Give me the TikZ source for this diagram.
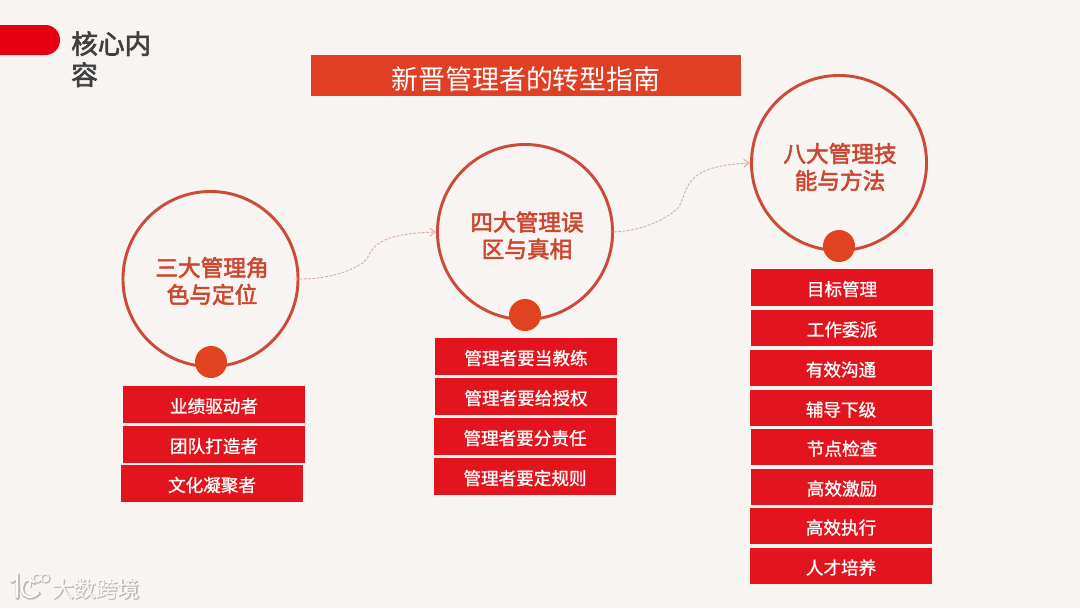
\documentclass[tikz,border=0pt]{standalone}
\usepackage{fontspec}
\setmainfont{Noto Sans CJK SC}
\newfontfamily\medf[FakeBold=2.4]{Noto Sans CJK SC}
\newfontfamily\lightbold[FakeBold=1.0]{Noto Sans CJK SC}
\usetikzlibrary{arrows.meta}
\definecolor{bgc}{HTML}{F8F4F1}
\definecolor{pillc}{HTML}{E60012}
\definecolor{titlec}{HTML}{E03F24}
\definecolor{ringc}{HTML}{CB4A38}
\definecolor{dotc}{HTML}{E0431F}
\definecolor{boxc}{HTML}{E3141E}
\definecolor{headc}{HTML}{CC4630}
\definecolor{flowc}{HTML}{D9ABA5}
\definecolor{inkc}{HTML}{404040}
\definecolor{markc}{HTML}{FBFAF8}
\definecolor{markshade}{HTML}{BDBAB6}
\tikzset{
  x=0.75pt,y=-0.75pt,
  ring/.style={circle,draw=ringc,line width=2.2pt,minimum size=131.3pt,inner sep=0pt,outer sep=0pt},
  ringtext/.style={align=center,text=headc,font=\fontsize{17}{20.2}\medf,inner sep=0pt},
  knob/.style={circle,fill=dotc,minimum size=24pt,inner sep=0pt},
  item/.style={fill=boxc,minimum width=136.5pt,minimum height=27.5pt,inner sep=0pt},
  itemtext/.style={text=white,inner sep=0pt,font=\fontsize{13.2}{14}\lightbold},
  flow/.style={draw=flowc,line width=0.7pt,dashed,dash pattern=on 2pt off 1.2pt,shorten >=1.2pt,shorten <=-2pt,-{Straight Barb[length=4pt,width=6pt]}},
}
\newcommand{\itembox}[4]{\node[item] (#1) at (#2,#3) {}; \node[itemtext] (#1t) at (#2,#3+1.6) {#4};}
\begin{document}
\begin{tikzpicture}
\useasboundingbox (0,0) rectangle (1080,608);
\fill[bgc] (0,0) rectangle (1080,608);
% tab
\fill[pillc,rounded corners=11pt] (-30,25) rectangle (60,55);
\node[anchor=north west,inner sep=0pt,text=inkc,align=left,font=\fontsize{20}{23.3}\medf] (corehead) at (71,31) {核心内\\容};
% title
\node[fill=titlec,minimum width=323pt,minimum height=30.5pt,inner sep=0pt] (title) at (526,75.5) {};
\node[text=white,inner sep=0pt,font=\fontsize{20.2}{24}\selectfont] (titletext) at (526,79.5) {新晋管理者的转型指南};
% circles
\node[ring] (r1) at (210.5,279) {};
\node[ring] (r2) at (525,232) {};
\node[ring] (r3) at (839,163) {};
\node[ringtext] (t1) at (212,281) {三大管理角\\色与定位};
\node[ringtext] (t2) at (527,235.5) {四大管理误\\区与真相};
\node[ringtext] (t3) at (840,167) {八大管理技\\能与方法};
\node[knob] (k1) at (211,362) {};
\node[knob] (k2) at (525,315) {};
\node[knob] (k3) at (839,246) {};
% connectors
\draw[flow] (r1.east) .. controls (325,280) and (350,272) .. (364,262) .. controls (374,253) and (366,234) .. (r2.west);
\draw[flow] (r2.east) .. controls (640,232) and (665,220) .. (678,208) .. controls (690,190) and (680,166) .. (r3.west);
% items
\itembox{a1}{214}{404.5}{业绩驱动者}
\itembox{a2}{214}{444.5}{团队打造者}
\itembox{a3}{212}{483.5}{文化凝聚者}
\itembox{b1}{526}{356.5}{管理者要当教练}
\itembox{b2}{526}{396.5}{管理者要给授权}
\itembox{b3}{525}{436.5}{管理者要分责任}
\itembox{b4}{525}{476.5}{管理者要定规则}
\itembox{c1}{842}{287.5}{目标管理}
\itembox{c2}{842}{328}{工作委派}
\itembox{c3}{841}{368}{有效沟通}
\itembox{c4}{841}{408}{辅导下级}
\itembox{c5}{842}{447}{节点检查}
\itembox{c6}{842}{487}{高效激励}
\itembox{c7}{841}{526}{高效执行}
\itembox{c8}{841}{566}{人才培养}
% watermark
\begin{scope}[line cap=round]
\foreach \col/\w/\o in {markshade/3.2pt/0.8,markc/1.7pt/0}{
  \begin{scope}[shift={(\o,\o)},draw=\col,line width=\w]
    \draw (12,581) -- (17,577) -- (17,597);
    \draw (34,582) .. controls (24,574) and (21,587) .. (22,590) .. controls (23,598) and (32,599) .. (38,593);
  \end{scope}
  \begin{scope}[shift={(\o,\o)},draw=\col,line width=0.45*\w]
    \draw (30,578) -- (30,586);
    \draw (37,578) ellipse (4 and 4);
    \draw (45,578) ellipse (4 and 4);
  \end{scope}
}
\end{scope}
\node[text=markshade,inner sep=0pt,font=\fontsize{16.3}{18}\medf] at (96.6,589.6) {大数跨境};
\node[text=markc,inner sep=0pt,font=\fontsize{16.3}{18}\selectfont] (mark) at (96,589) {大数跨境};
\end{tikzpicture}
\end{document}
